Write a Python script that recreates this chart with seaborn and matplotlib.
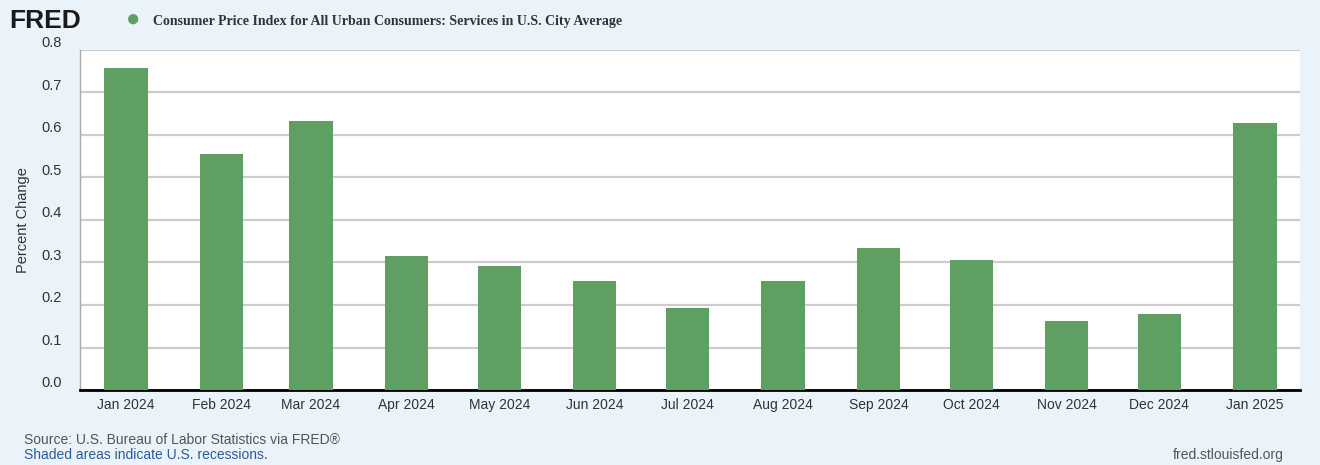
import matplotlib
matplotlib.use("Agg")
import matplotlib.pyplot as plt
import seaborn as sns
import pandas as pd
import numpy as np

months = ["2024-01-01", "2024-02-01", "2024-03-01", "2024-04-01", "2024-05-01", "2024-06-01",
          "2024-07-01", "2024-08-01", "2024-09-01", "2024-10-01", "2024-11-01", "2024-12-01",
          "2025-01-01"]
tick_labels = ["Jan 2024", "Feb 2024", "Mar 2024", "Apr 2024", "May 2024", "Jun 2024",
               "Jul 2024", "Aug 2024", "Sep 2024", "Oct 2024", "Nov 2024", "Dec 2024",
               "Jan 2025"]
values = [0.758, 0.555, 0.633, 0.315, 0.292, 0.256, 0.193, 0.256, 0.334, 0.306, 0.162, 0.179, 0.628]

dates = pd.to_datetime(months)
days = (dates - dates[0]).days.astype(float)
df = pd.DataFrame({"day": days, "value": values})

sns.set_style("white")
plt.rcParams["font.family"] = ["Liberation Sans", "DejaVu Sans"]

BG = "#eaf2fa"
fig = plt.figure(figsize=(13.2, 4.65), dpi=100, facecolor=BG)
ax = fig.add_axes([80/1320, 75/465, 1220/1320, 340/465])
ax.set_facecolor("white")

min_gap = np.min(np.diff(days))
sns.barplot(data=df, x="day", y="value", native_scale=True, color="#5fa062",
            width=14.0/min_gap, saturation=1, ax=ax, zorder=3, linewidth=0)

ax.set_xlim(-14.9, 380.6)
ax.set_ylim(0, 0.8)
ax.set_yticks(np.arange(0, 0.81, 0.1))
ax.set_yticklabels([f"{v:.1f}" for v in np.arange(0, 0.81, 0.1)])
ax.set_xticks(days)
ax.set_xticklabels(tick_labels)
ax.yaxis.grid(True, color="#cccccc", linewidth=1.6, zorder=0)
ax.xaxis.grid(False)
ax.tick_params(axis="y", length=0, pad=13, labelsize=10.5, labelcolor="#333333")
ax.tick_params(axis="x", length=8, width=0.8, color="#c9d6ea", pad=-2, labelsize=10, labelcolor="#333333")
for lab in ax.get_yticklabels():
    lab.set_verticalalignment("bottom")
for s in ["top", "right"]:
    ax.spines[s].set_visible(False)
ax.spines["left"].set_color("#aaaaaa")
ax.spines["left"].set_linewidth(1)
ax.spines["bottom"].set_color("#000000")
ax.spines["bottom"].set_linewidth(2)
ax.set_xlabel("")
ax.set_ylabel("Percent Change", fontsize=10.5, color="#333333", labelpad=8)

# Header
fig.text(9/1320, 1 - 21/465, "FRED", fontsize=19, fontweight="heavy", color="#1a1a1a",
         va="center", ha="left")
fig.text(133/1320, 1 - 20/465, "\u25cf", fontsize=17, color="#5fa062", va="center", ha="center")
fig.text(153/1320, 1 - 21/465, "Consumer Price Index for All Urban Consumers: Services in U.S. City Average",
         fontsize=10, fontweight="bold", color="#333333", va="center", ha="left",
         family=["Liberation Serif", "DejaVu Serif"])

# Footer
fig.text(24/1320, 1 - 440/465, "Source: U.S. Bureau of Labor Statistics via FRED\u00ae",
         fontsize=10, color="#555555", va="center", ha="left")
fig.text(24/1320, 1 - 455/465, "Shaded areas indicate U.S. recessions.",
         fontsize=10, color="#2a5c9e", va="center", ha="left")
fig.text(1284/1320, 1 - 455/465, "fred.stlouisfed.org",
         fontsize=10, color="#555555", va="center", ha="right")

fig.savefig("out.png", dpi=100, facecolor=BG)
